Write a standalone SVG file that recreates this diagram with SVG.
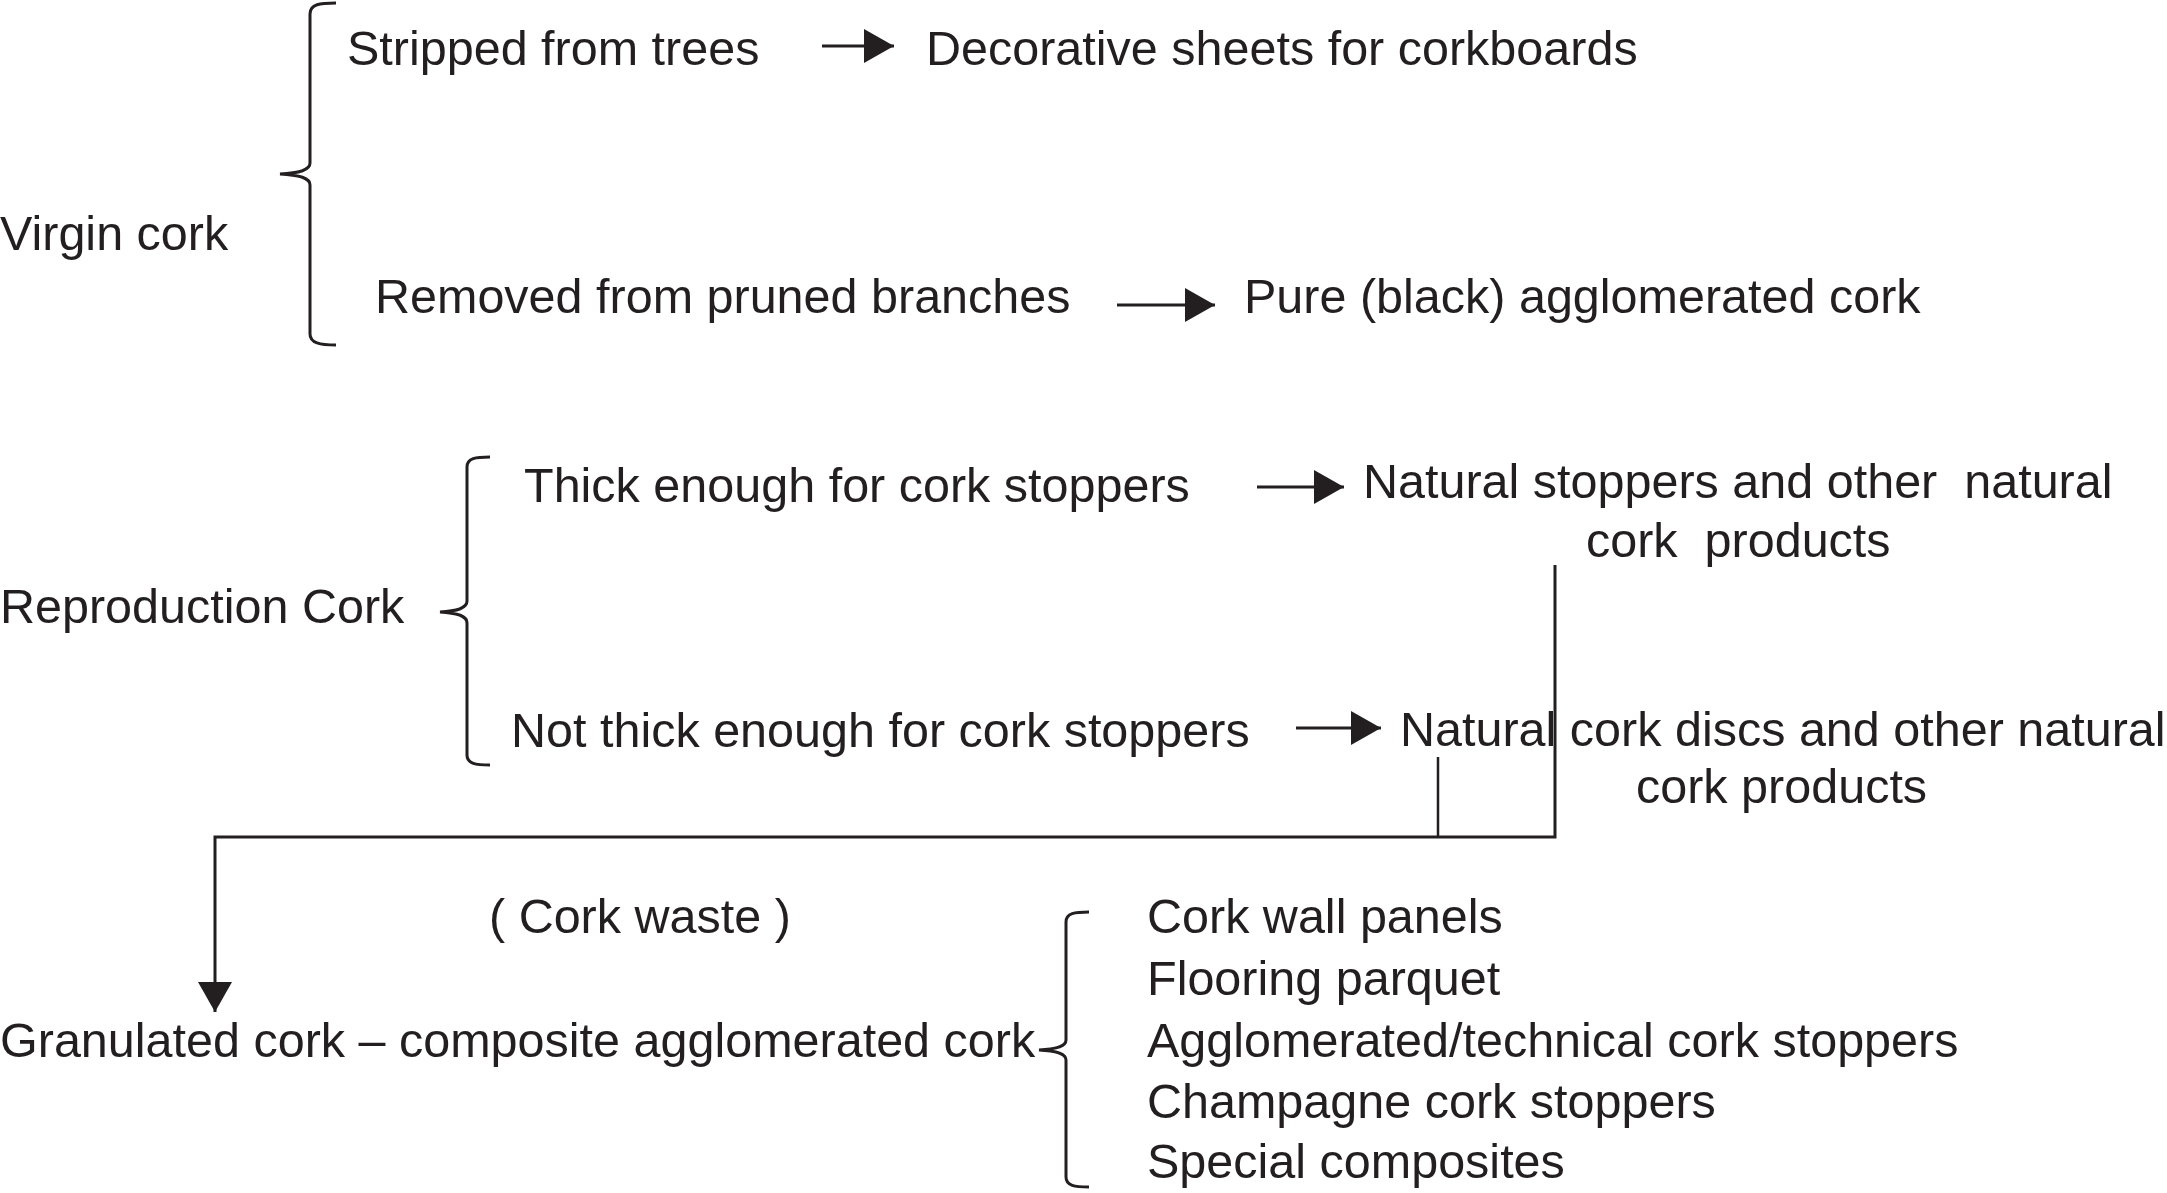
<svg xmlns="http://www.w3.org/2000/svg" width="2167" height="1193" viewBox="0 0 2167 1193">
  <style>
    text { font-family: "Liberation Sans", Arial, sans-serif; font-size: 48.5px; fill: #231f20; white-space: pre; }
    .brace { fill: none; stroke: #231f20; stroke-width: 3; }
    .conn { fill: none; stroke: #231f20; stroke-width: 3; }
    .thin { fill: none; stroke: #231f20; stroke-width: 2.5; }
  </style>
  <defs>
    <marker id="ah" markerUnits="userSpaceOnUse" viewBox="0 0 30 34" refX="30" refY="17" markerWidth="30" markerHeight="34" orient="auto">
      <path d="M0,0 L30,17 L0,34 Z" fill="#231f20"/>
    </marker>
  </defs>
  <rect width="2167" height="1193" fill="#ffffff"/>

  <g id="virgin">
    <text x="0" y="250">Virgin cork</text>
    <path class="brace" d="M336,3 C320,3 310,4 310,14 L310,163 C310,170 300,173 280,174 C300,175 310,178 310,185 L310,334 C310,343 320,345 336,345"/>
  </g>
  <g id="stripped"><text x="347" y="65">Stripped from trees</text></g>
  <g id="decorative"><text x="926" y="65">Decorative sheets for corkboards</text></g>
  <g id="removed"><text x="375" y="313">Removed from pruned branches</text></g>
  <g id="pure"><text x="1244" y="313">Pure (black) agglomerated cork</text></g>

  <g id="reproduction">
    <text x="0" y="623">Reproduction Cork</text>
    <path class="brace" d="M490,457 C476,457 467,458 467,467 L467,601 C467,608 458,611 440,612 C458,613 467,616 467,623 L467,755 C467,764 476,765 490,765"/>
  </g>
  <g id="thick"><text x="524" y="502">Thick enough for cork stoppers</text></g>
  <g id="natural-stoppers">
    <text x="1363" y="498">Natural stoppers and other  natural</text>
    <text x="1586" y="557">cork  products</text>
  </g>
  <g id="not-thick"><text x="511" y="747">Not thick enough for cork stoppers</text></g>
  <g id="natural-discs">
    <text x="1400" y="746">Natural cork discs and other natural</text>
    <text x="1636" y="803">cork products</text>
  </g>

  <g id="cork-waste"><text x="489" y="933">( Cork waste )</text></g>

  <g id="granulated">
    <text x="0" y="1057">Granulated cork – composite agglomerated cork</text>
    <path class="brace" d="M1089,912 C1075,912 1066,913 1066,922 L1066,1040 C1066,1046 1058,1049 1039,1050 C1058,1051 1066,1054 1066,1060 L1066,1177 C1066,1186 1075,1187 1089,1187"/>
  </g>
  <g id="products">
    <text x="1147" y="933">Cork wall panels</text>
    <text x="1147" y="995">Flooring parquet</text>
    <text x="1147" y="1057">Agglomerated/technical cork stoppers</text>
    <text x="1147" y="1118">Champagne cork stoppers</text>
    <text x="1147" y="1178">Special composites</text>
  </g>

  <g id="connectors">
    <line class="conn" x1="822" y1="46" x2="894" y2="46" marker-end="url(#ah)"/>
    <line class="conn" x1="1117" y1="305" x2="1215" y2="305" marker-end="url(#ah)"/>
    <line class="conn" x1="1257" y1="487" x2="1344" y2="487" marker-end="url(#ah)"/>
    <line class="conn" x1="1296" y1="728" x2="1381" y2="728" marker-end="url(#ah)"/>
    <line class="thin" x1="1438" y1="757" x2="1438" y2="837"/>
    <path class="conn" d="M1555,565 L1555,837 L215,837 L215,1012" marker-end="url(#ah)"/>
  </g>
</svg>
